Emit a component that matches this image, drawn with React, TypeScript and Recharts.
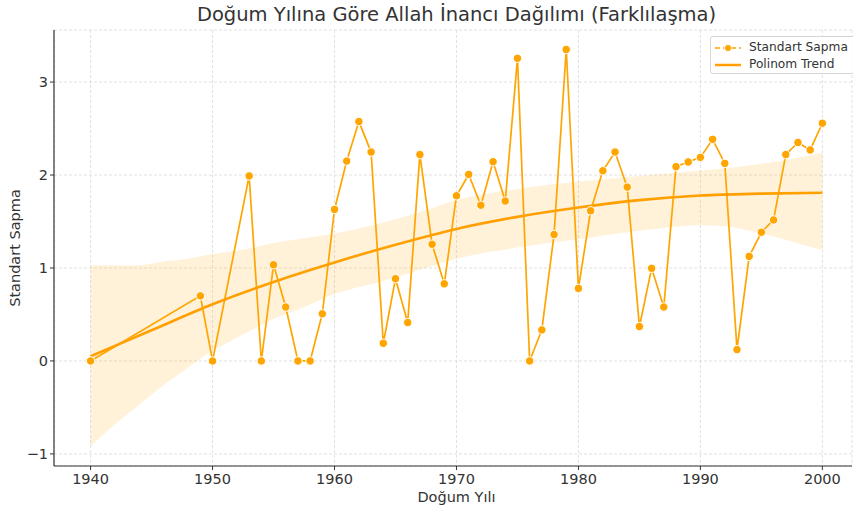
import React from "react";
import { ComposedChart, Line, Area, XAxis, YAxis, CartesianGrid } from "recharts";

const years = [1940, 1949, 1950, 1953, 1954, 1955, 1956, 1957, 1958, 1959, 1960, 1961, 1962, 1963, 1964, 1965, 1966, 1967, 1968, 1969, 1970, 1971, 1972, 1973, 1974, 1975, 1976, 1977, 1978, 1979, 1980, 1981, 1982, 1983, 1984, 1985, 1986, 1987, 1988, 1989, 1990, 1991, 1992, 1993, 1994, 1995, 1996, 1997, 1998, 1999, 2000];
const stdValues = [0, 0.70, 0, 1.99, 0, 1.035, 0.58, 0, 0, 0.507, 1.63, 2.15, 2.575, 2.247, 0.19, 0.885, 0.413, 2.22, 1.255, 0.83, 1.777, 2.006, 1.675, 2.143, 1.72, 3.255, 0, 0.334, 1.36, 3.35, 0.78, 1.615, 2.046, 2.247, 1.87, 0.37, 0.996, 0.58, 2.09, 2.14, 2.19, 2.384, 2.125, 0.122, 1.125, 1.384, 1.517, 2.22, 2.35, 2.27, 2.557];

const trendYears = [1940, 1945, 1950, 1955, 1960, 1965, 1970, 1975, 1980, 1985, 1990, 1995, 2000];
const trendValues = [0.05, 0.33, 0.61, 0.85, 1.06, 1.25, 1.42, 1.55, 1.65, 1.73, 1.78, 1.80, 1.81];

const bandYears = [1940, 1942, 1944, 1946, 1948, 1950, 1951, 1953, 1955, 1957, 1960, 1964, 1967, 1970, 1975, 1980, 1985, 1990, 1992, 1995, 2000];
const bandUpper = [1.03, 1.03, 1.03, 1.07, 1.10, 1.15, 1.17, 1.21, 1.27, 1.31, 1.37, 1.49, 1.60, 1.73, 1.85, 1.93, 1.99, 2.05, 2.07, 2.12, 2.24];
const bandLower = [-0.92, -0.68, -0.47, -0.26, -0.07, 0.11, 0.18, 0.32, 0.45, 0.55, 0.72, 0.86, 0.98, 1.10, 1.22, 1.31, 1.40, 1.46, 1.45, 1.37, 1.19];

const xTicks = [1940, 1950, 1960, 1970, 1980, 1990, 2000];
const yTicks = [-1, 0, 1, 2, 3];

const stdData = years.map((y, i) => ({ year: y, std: stdValues[i] }));
const trendData = trendYears.map((y, i) => ({ year: y, trend: trendValues[i] }));
const bandData = bandYears.map((y, i) => ({ year: y, band: [bandLower[i], bandUpper[i]] }));

const FONT = "'DejaVu Sans', sans-serif";
const TEXT = "#333333";
const ORANGE = "#FFA500";
const TREND = "#FFA000";

const fmtY = (v: number) => (v < 0 ? "\u2212" + Math.abs(v) : String(v));

const Dot = (props: any) => {
  const { cx, cy } = props;
  if (cx == null || cy == null) return null;
  return <circle cx={cx} cy={cy} r={4.2} fill={ORANGE} stroke="#ffffff" strokeWidth={1} />;
};

const LegendBox = () => (
  <div
    style={{
      position: "absolute",
      left: 710,
      top: 36,
      width: 160,
      height: 38,
      boxSizing: "border-box",
      border: "1px solid #d6d6d6",
      borderRadius: 3,
      background: "rgba(255,255,255,0.85)",
      padding: "2px 0 0 3px",
      fontFamily: FONT,
      fontSize: 12.2,
      color: TEXT,
      lineHeight: "17px",
      whiteSpace: "nowrap",
    }}
  >
    <div style={{ display: "flex", alignItems: "center" }}>
      <svg width={28} height={12} style={{ marginRight: 7 }}>
        <line x1={1} y1={6} x2={27} y2={6} stroke={ORANGE} strokeWidth={1.5} strokeDasharray="5 3" />
        <circle cx={14} cy={6} r={3.5} fill={ORANGE} stroke="#fff" strokeWidth={0.8} />
      </svg>
      <span>Standart Sapma</span>
    </div>
    <div style={{ display: "flex", alignItems: "center" }}>
      <svg width={28} height={12} style={{ marginRight: 7 }}>
        <line x1={1} y1={6} x2={27} y2={6} stroke={TREND} strokeWidth={2.5} />
      </svg>
      <span>Polinom Trend</span>
    </div>
  </div>
);

export default function App() {
  return (
    <div style={{ position: "absolute", left: 0, top: 0, width: 853, height: 508, background: "#fff", overflow: "hidden" }}>
      <div style={{ position: "absolute", left: 0, top: 0 }}>
        <ComposedChart width={853} height={508} margin={{ top: 30, right: 1, bottom: 0, left: 0 }}>
          <CartesianGrid stroke="#d9d9d9" strokeDasharray="3 2" strokeWidth={0.8} horizontal vertical />
          <XAxis
            dataKey="year"
            type="number"
            domain={[1937, 2002.43]}
            allowDataOverflow
            ticks={xTicks}
            interval={0}
            height={42}
            tickSize={4}
            tickMargin={4}
            axisLine={{ stroke: "#333", strokeWidth: 1.2 }}
            tickLine={{ stroke: "#333" }}
            tick={{ fill: TEXT, fontSize: 14.5, fontFamily: FONT }}
          />
          <YAxis
            type="number"
            domain={[-1.13, 3.56]}
            allowDataOverflow
            ticks={yTicks}
            interval={0}
            width={54}
            tickSize={4}
            tickMargin={2}
            tickFormatter={fmtY}
            axisLine={{ stroke: "#333", strokeWidth: 1.2 }}
            tickLine={{ stroke: "#333" }}
            tick={{ fill: TEXT, fontSize: 14.5, fontFamily: FONT }}
          />
          <Area
            data={bandData}
            dataKey="band"
            type="monotone"
            stroke="none"
            fill={ORANGE}
            fillOpacity={0.15}
            isAnimationActive={false}
            legendType="none"
            activeDot={false}
          />
          <Line
            data={stdData}
            dataKey="std"
            type="linear"
            stroke={ORANGE}
            strokeWidth={1.7}
            dot={<Dot />}
            activeDot={false}
            isAnimationActive={false}
            name="Standart Sapma"
          />
          <Line
            data={trendData}
            dataKey="trend"
            type="monotone"
            stroke={TREND}
            strokeWidth={2.6}
            dot={false}
            activeDot={false}
            isAnimationActive={false}
            name="Polinom Trend"
          />
        </ComposedChart>
      </div>
      <div
        style={{
          position: "absolute",
          left: 0,
          width: 913,
          top: 3,
          textAlign: "center",
          fontFamily: FONT,
          fontSize: 19.5,
          color: TEXT,
        }}
      >
        Doğum Yılına Göre Allah İnancı Dağılımı (Farklılaşma)
      </div>
      <div
        style={{
          position: "absolute",
          left: 0,
          width: 913,
          top: 489,
          textAlign: "center",
          fontFamily: FONT,
          fontSize: 14.5,
          color: TEXT,
        }}
      >
        Doğum Yılı
      </div>
      <div
        style={{
          position: "absolute",
          left: 15,
          top: 248,
          transform: "translate(-50%, -50%) rotate(-90deg)",
          fontFamily: FONT,
          fontSize: 14.5,
          color: TEXT,
          whiteSpace: "nowrap",
        }}
      >
        Standart Sapma
      </div>
      <LegendBox />
    </div>
  );
}
